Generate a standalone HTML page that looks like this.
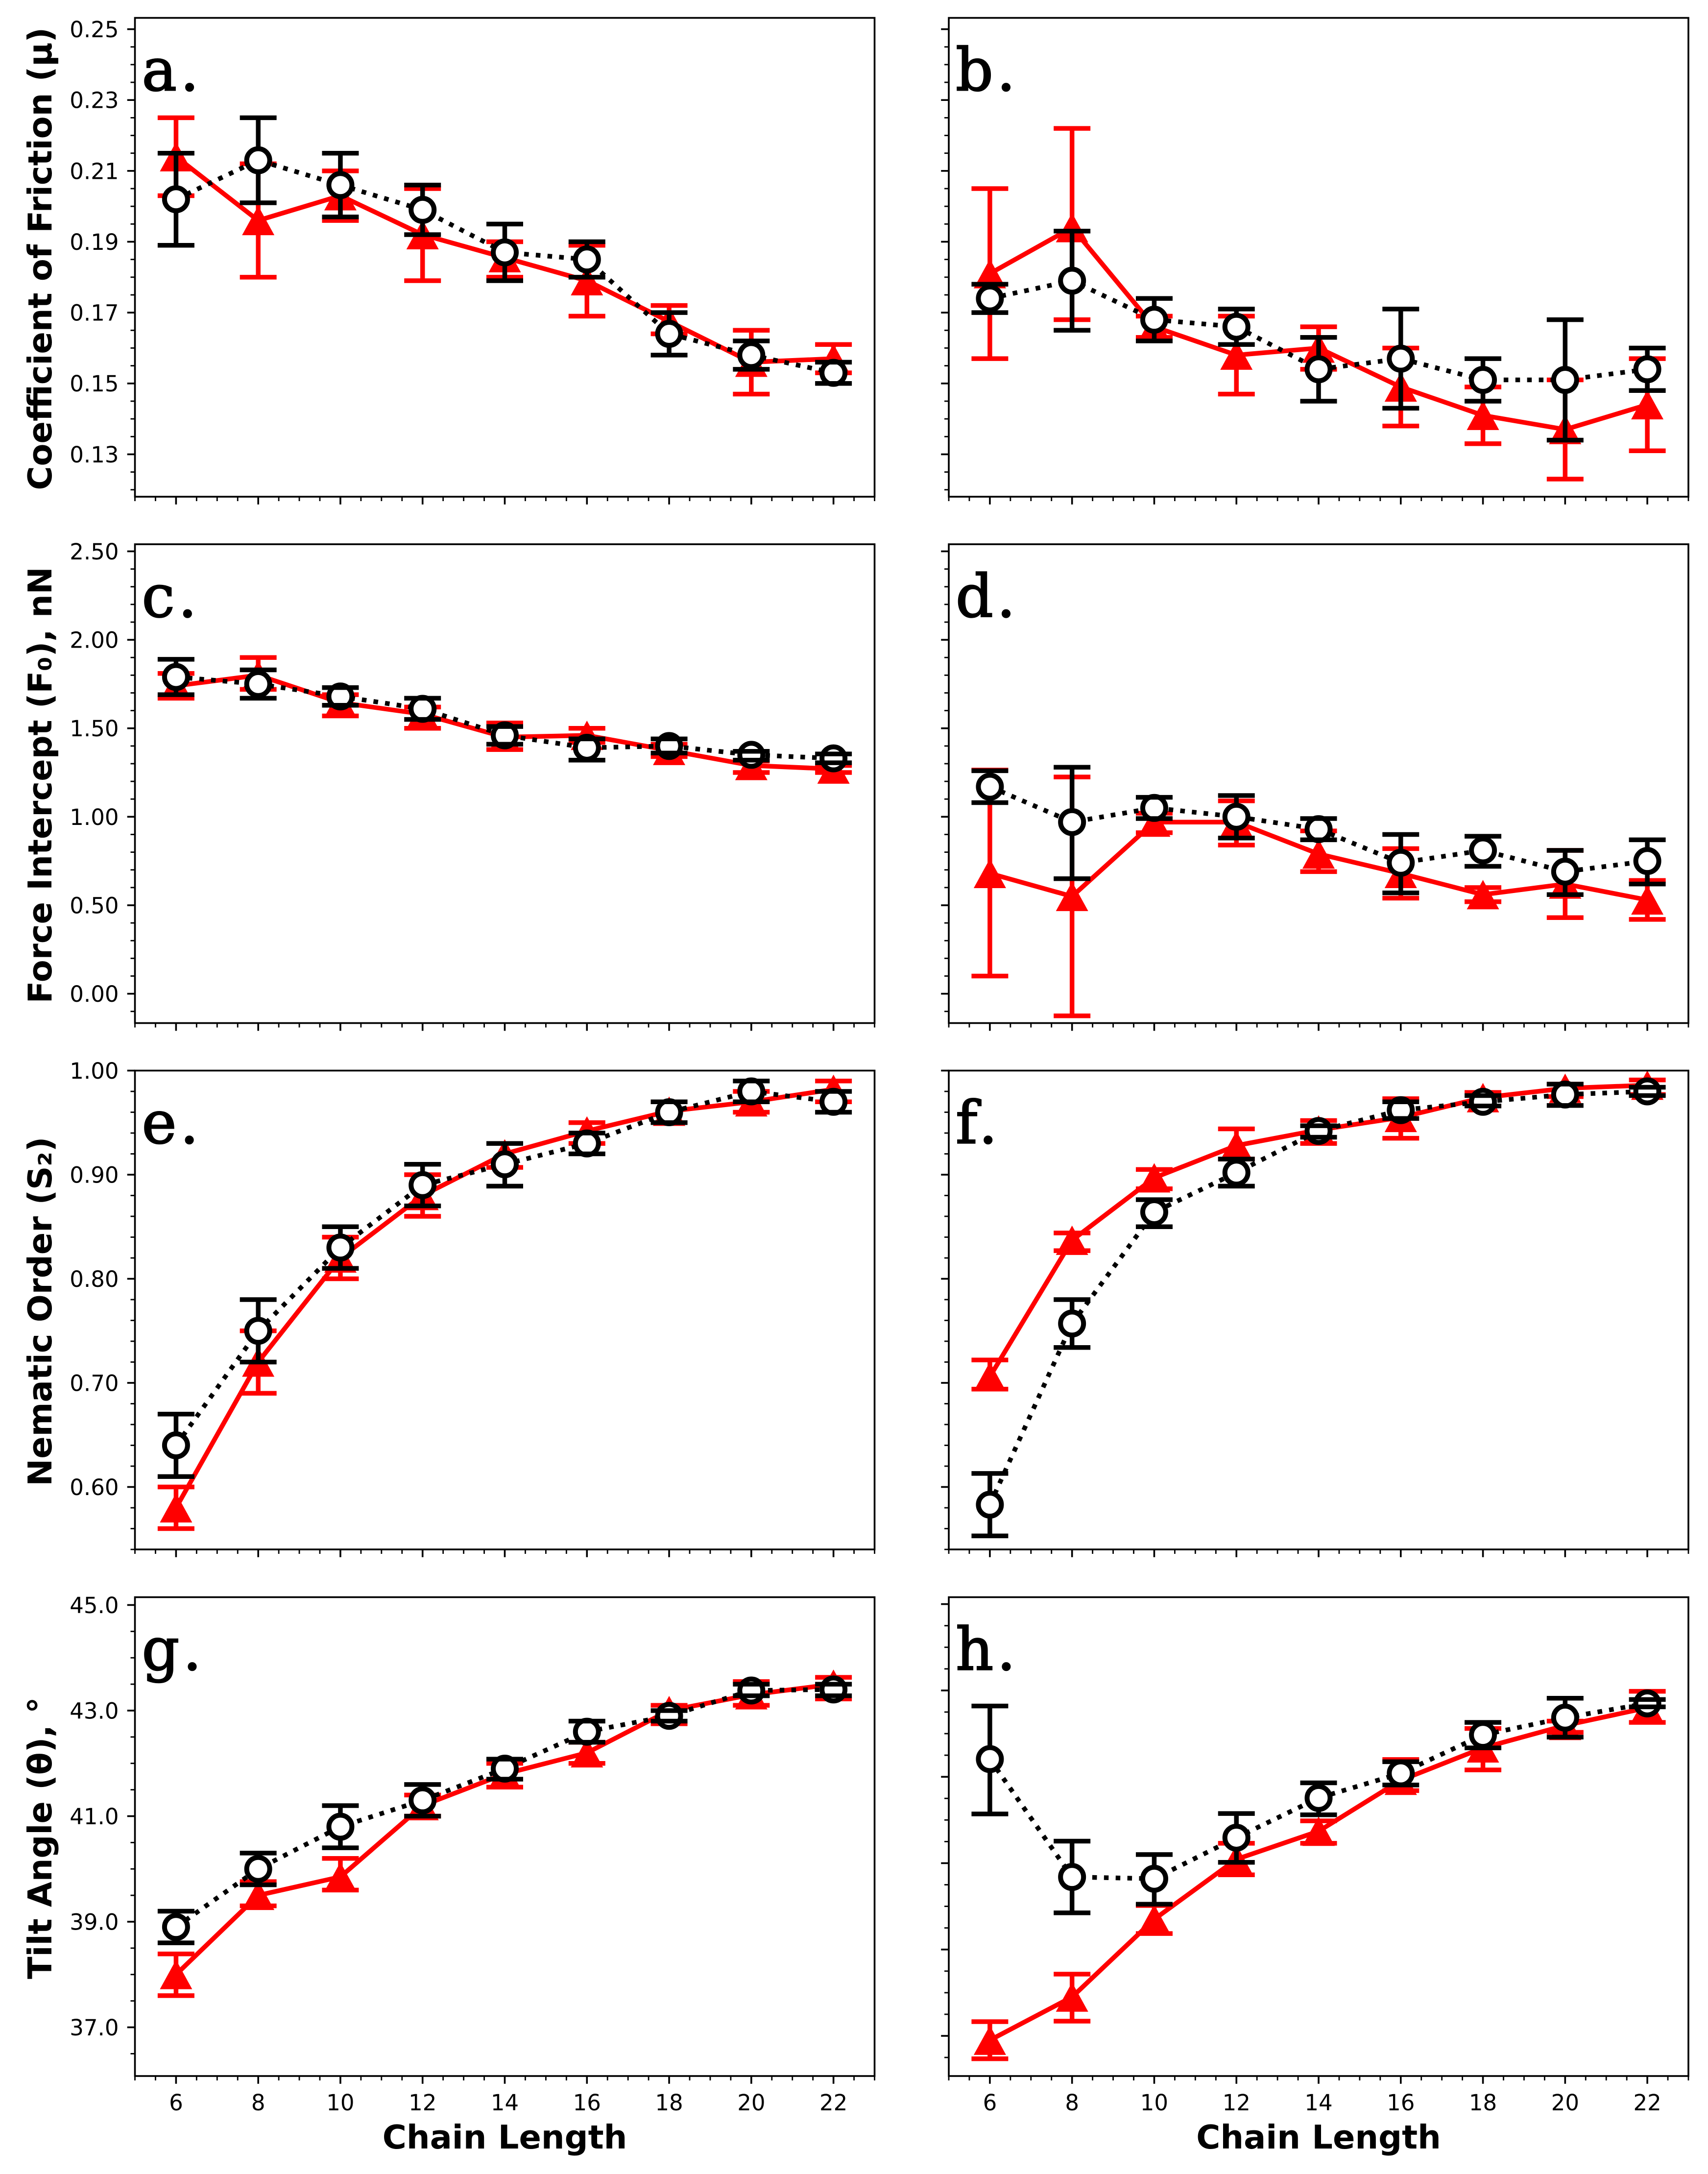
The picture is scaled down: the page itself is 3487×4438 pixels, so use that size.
<!DOCTYPE html>
<html lang="en">
<head>
<meta charset="utf-8">
<title>Chain length effects on friction, force intercept, nematic order and tilt angle</title>
<style>
html,body{margin:0;padding:0;background:#fff;}
svg{display:block;}
.tick{font-family:"DejaVu Sans",sans-serif;font-size:45px;fill:#000;}
.axis-title{font-family:"DejaVu Sans",sans-serif;font-size:67px;font-weight:bold;fill:#000;}
.letter{font-family:"DejaVu Serif",serif;font-size:120px;fill:#000;stroke:#000;stroke-width:2.5px;letter-spacing:7px;}
</style>
</head>
<body>
<svg id="chart" xmlns="http://www.w3.org/2000/svg" width="3487" height="4438" viewBox="0 0 3487 4438">
<rect x="0" y="0" width="3487" height="4438" fill="#fff"/>
</svg>
<script>
const chainLengths = [6, 8, 10, 12, 14, 16, 18, 20, 22];
const xTickLabels = ['6', '8', '10', '12', '14', '16', '18', '20', '22'];

// Panel a: coefficient of friction
const aRedMean = [0.214, 0.196, 0.203, 0.192, 0.1855, 0.179, 0.1675, 0.156, 0.157];
const aRedUpper = [0.225, 0.212, 0.210, 0.205, 0.190, 0.189, 0.172, 0.165, 0.161];
const aRedLower = [0.203, 0.180, 0.196, 0.179, 0.180, 0.169, 0.164, 0.147, 0.153];
const aBlackMean = [0.202, 0.213, 0.206, 0.199, 0.187, 0.185, 0.164, 0.158, 0.153];
const aBlackUpper = [0.215, 0.225, 0.215, 0.206, 0.195, 0.190, 0.170, 0.162, 0.156];
const aBlackLower = [0.189, 0.201, 0.197, 0.192, 0.179, 0.180, 0.158, 0.154, 0.150];

// Panel b: coefficient of friction
const bRedMean = [0.181, 0.194, 0.166, 0.158, 0.160, 0.149, 0.141, 0.137, 0.144];
const bRedUpper = [0.205, 0.222, 0.169, 0.169, 0.166, 0.160, 0.149, 0.151, 0.157];
const bRedLower = [0.157, 0.168, 0.163, 0.147, 0.154, 0.138, 0.133, 0.123, 0.131];
const bBlackMean = [0.174, 0.179, 0.168, 0.166, 0.154, 0.157, 0.151, 0.151, 0.154];
const bBlackUpper = [0.178, 0.193, 0.174, 0.171, 0.163, 0.171, 0.157, 0.168, 0.160];
const bBlackLower = [0.170, 0.165, 0.162, 0.161, 0.145, 0.143, 0.145, 0.134, 0.148];

// Panel c: force intercept
const cRedMean = [1.74, 1.80, 1.645, 1.58, 1.45, 1.46, 1.375, 1.29, 1.27];
const cRedUpper = [1.81, 1.90, 1.69, 1.62, 1.53, 1.50, 1.41, 1.315, 1.29];
const cRedLower = [1.67, 1.72, 1.57, 1.50, 1.38, 1.42, 1.34, 1.25, 1.25];
const cBlackMean = [1.79, 1.75, 1.68, 1.61, 1.46, 1.39, 1.40, 1.35, 1.33];
const cBlackUpper = [1.89, 1.83, 1.73, 1.67, 1.51, 1.44, 1.44, 1.37, 1.355];
const cBlackLower = [1.69, 1.67, 1.63, 1.55, 1.41, 1.32, 1.36, 1.32, 1.305];

// Panel d: force intercept
const dRedMean = [0.68, 0.55, 0.97, 0.97, 0.79, 0.68, 0.56, 0.62, 0.53];
const dRedUpper = [1.264, 1.225, 1.02, 1.09, 0.92, 0.82, 0.60, 0.81, 0.64];
const dRedLower = [0.10, -0.125, 0.91, 0.84, 0.69, 0.54, 0.52, 0.43, 0.42];
const dBlackMean = [1.17, 0.97, 1.05, 1.00, 0.93, 0.74, 0.81, 0.69, 0.75];
const dBlackUpper = [1.26, 1.28, 1.11, 1.12, 0.99, 0.90, 0.89, 0.81, 0.87];
const dBlackLower = [1.08, 0.65, 0.99, 0.88, 0.87, 0.57, 0.72, 0.56, 0.62];

// Panel e: nematic order
const eRedMean = [0.58, 0.72, 0.82, 0.88, 0.92, 0.942, 0.961, 0.97, 0.982];
const eRedUpper = [0.60, 0.75, 0.84, 0.90, 0.93, 0.95, 0.97, 0.98, 0.99];
const eRedLower = [0.56, 0.69, 0.80, 0.86, 0.907, 0.93, 0.95, 0.96, 0.97];
const eBlackMean = [0.64, 0.75, 0.83, 0.89, 0.91, 0.93, 0.96, 0.98, 0.97];
const eBlackUpper = [0.67, 0.78, 0.85, 0.91, 0.93, 0.94, 0.97, 0.99, 0.98];
const eBlackLower = [0.61, 0.72, 0.81, 0.87, 0.889, 0.92, 0.95, 0.97, 0.96];

// Panel f: nematic order
const fRedMean = [0.706, 0.837, 0.897, 0.928, 0.943, 0.955, 0.974, 0.983, 0.986];
const fRedUpper = [0.722, 0.844, 0.905, 0.944, 0.952, 0.973, 0.979, 0.987, 0.991];
const fRedLower = [0.694, 0.827, 0.8865, 0.915, 0.93, 0.935, 0.966, 0.975, 0.977];
const fBlackMean = [0.583, 0.757, 0.864, 0.902, 0.942, 0.962, 0.97, 0.977, 0.98];
const fBlackUpper = [0.613, 0.78, 0.876, 0.915, 0.947, 0.97, 0.976, 0.987, 0.984];
const fBlackLower = [0.553, 0.734, 0.85, 0.889, 0.936, 0.954, 0.966, 0.9665, 0.976];

// Panel g: tilt angle
const gRedMean = [38.0, 39.5, 39.85, 41.2, 41.8, 42.2, 43.0, 43.3, 43.5];
const gRedUpper = [38.39, 39.76, 40.2, 41.4, 42.0, 42.4, 43.1, 43.55, 43.63];
const gRedLower = [37.6, 39.3, 39.6, 41.0, 41.55, 42.0, 42.75, 43.1, 43.22];
const gBlackMean = [38.9, 40.0, 40.8, 41.3, 41.9, 42.6, 42.9, 43.38, 43.4];
const gBlackUpper = [39.2, 40.3, 41.2, 41.6, 42.08, 42.8, 43.0, 43.5, 43.5];
const gBlackLower = [38.6, 39.7, 40.4, 41.0, 41.7, 42.4, 42.8, 43.28, 43.28];

// Panel h: tilt angle
const hRedMean = [35.9, 36.9, 38.7, 40.09, 40.74, 41.92, 42.67, 43.19, 43.6];
const hRedUpper = [36.33, 37.43, 39.02, 40.46, 40.98, 42.4, 43.12, 43.29, 43.98];
const hRedLower = [35.47, 36.34, 38.37, 39.73, 40.46, 41.68, 42.16, 43.03, 43.26];
const hBlackMean = [42.41, 39.68, 39.64, 40.59, 41.51, 42.08, 42.97, 43.37, 43.7];
const hBlackUpper = [43.64, 40.51, 40.2, 41.15, 41.86, 42.35, 43.26, 43.82, 43.79];
const hBlackLower = [41.14, 38.85, 39.05, 40.02, 41.12, 41.81, 42.67, 42.92, 43.62];

// Y tick values and printed labels
const frictionTicks = [0.25, 0.23, 0.21, 0.19, 0.17, 0.15, 0.13];
const frictionLabels = ['0.25', '0.23', '0.21', '0.19', '0.17', '0.15', '0.13'];
const forceTicks = [2.5, 2.0, 1.5, 1.0, 0.5, 0.0];
const forceLabels = ['2.50', '2.00', '1.50', '1.00', '0.50', '0.00'];
const orderTicks = [1.0, 0.9, 0.8, 0.7, 0.6];
const orderLabels = ['1.00', '0.90', '0.80', '0.70', '0.60'];
const tiltTicks = [45, 43, 41, 39, 37];
const tiltLabels = ['45.0', '43.0', '41.0', '39.0', '37.0'];
const tiltRightTicks = [46, 44, 42, 40, 38, 36];

const panels = [
  {id:'a', col:0, row:0, yMin:0.11803, yMax:0.25319, ticks:frictionTicks, labels:frictionLabels, minor:0.005, title:'Coefficient of Friction (μ)', red:[aRedMean,aRedUpper,aRedLower], black:[aBlackMean,aBlackUpper,aBlackLower]},
  {id:'b', col:1, row:0, yMin:0.11803, yMax:0.25319, ticks:frictionTicks, labels:null, minor:0.005, title:null, red:[bRedMean,bRedUpper,bRedLower], black:[bBlackMean,bBlackUpper,bBlackLower]},
  {id:'c', col:0, row:1, yMin:-0.1658, yMax:2.5401, ticks:forceTicks, labels:forceLabels, minor:0.1, title:'Force Intercept (F₀), nN', red:[cRedMean,cRedUpper,cRedLower], black:[cBlackMean,cBlackUpper,cBlackLower]},
  {id:'d', col:1, row:1, yMin:-0.1658, yMax:2.5401, ticks:forceTicks, labels:null, minor:0.1, title:null, red:[dRedMean,dRedUpper,dRedLower], black:[dBlackMean,dBlackUpper,dBlackLower]},
  {id:'e', col:0, row:2, yMin:0.54, yMax:1.0, ticks:orderTicks, labels:orderLabels, minor:0.02, title:'Nematic Order (S₂)', red:[eRedMean,eRedUpper,eRedLower], black:[eBlackMean,eBlackUpper,eBlackLower]},
  {id:'f', col:1, row:2, yMin:0.54, yMax:1.0, ticks:orderTicks, labels:null, minor:0.02, title:null, red:[fRedMean,fRedUpper,fRedLower], black:[fBlackMean,fBlackUpper,fBlackLower]},
  {id:'g', col:0, row:3, yMin:36.077, yMax:45.148, ticks:tiltTicks, labels:tiltLabels, minor:0.5, title:'Tilt Angle (θ), °', red:[gRedMean,gRedUpper,gRedLower], black:[gBlackMean,gBlackUpper,gBlackLower]},
  {id:'h', col:1, row:3, yMin:35.07, yMax:46.16, ticks:tiltRightTicks, labels:null, minor:0.5, title:null, red:[hRedMean,hRedUpper,hRedLower], black:[hBlackMean,hBlackUpper,hBlackLower]}
];

const SVG_NS = 'http://www.w3.org/2000/svg';
const chart = document.getElementById('chart');
const AX_W = 1510, AX_H = 977.5;
const colLeft = [275.5, 1937];
const rowTop = [36.5, 1111, 2185.5, 3260.5];
const X_MIN = 5, X_MAX = 23;
const CAP_HALF = 37.5, LW = 9.5, CIRCLE_R = 23.5, CIRCLE_EDGE = 10, TRI_HALF_W = 33, TRI_HALF_H = 30;

function make(parent, tag, attrs, text) {
  const el = document.createElementNS(SVG_NS, tag);
  for (const k in attrs) el.setAttribute(k, attrs[k]);
  if (text !== undefined) el.textContent = text;
  parent.appendChild(el);
  return el;
}

function xAxis(left) {
  return function (v) { return left + (v - X_MIN) / (X_MAX - X_MIN) * AX_W; };
}
function yAxis(top, yMin, yMax) {
  return function (v) { return top + (yMax - v) / (yMax - yMin) * AX_H; };
}

function drawSeries(g, color, key, pid, data, x, y) {
  const mean = data[0], upper = data[1], lower = data[2];
  const isBlack = key === 'black';

  chainLengths.forEach(function (c, i) {
    const stem = make(g, 'line', {x1:x(c), x2:x(c), y1:y(upper[i]), y2:y(lower[i]), stroke:color, 'stroke-width':LW});
    
    
  });

  const pts = chainLengths.map(function (c, i) { return x(c) + ',' + y(mean[i]); }).join(' ');
  const line = make(g, 'polyline', {points:pts, fill:'none', stroke:color, 'stroke-width':LW, 'stroke-linejoin':'round'});
  if (isBlack) line.setAttribute('stroke-dasharray', '9.5 14.4');
  
  

  chainLengths.forEach(function (c, i) {
    const cx = x(c), cy = y(mean[i]);
    let mk;
    if (isBlack) {
      mk = make(g, 'circle', {cx:cx, cy:cy, r:CIRCLE_R, fill:'#fff', stroke:'#000', 'stroke-width':CIRCLE_EDGE});
    } else {
      const tri = [cx + ',' + (cy - TRI_HALF_H), (cx - TRI_HALF_W) + ',' + (cy + TRI_HALF_H), (cx + TRI_HALF_W) + ',' + (cy + TRI_HALF_H)].join(' ');
      mk = make(g, 'polygon', {points:tri, fill:color});
    }
    
    
  });

  chainLengths.forEach(function (c, i) {
    [upper[i], lower[i]].forEach(function (val, j) {
      const cap = make(g, 'line', {x1:x(c) - CAP_HALF, x2:x(c) + CAP_HALF, y1:y(val), y2:y(val), stroke:color, 'stroke-width':LW});
      
      
    });
  });
}

panels.forEach(function (p) {
  const left = colLeft[p.col], top = rowTop[p.row], bottom = top + AX_H;
  const x = xAxis(left), y = yAxis(top, p.yMin, p.yMax);

  const g = make(chart, 'g', {});
  
  

  // Y ticks
  const kMin = Math.ceil(p.yMin / p.minor - 1e-6), kMax = Math.floor(p.yMax / p.minor + 1e-6);
  for (let k = kMin; k <= kMax; k++) {
    const v = k * p.minor;
    if (p.ticks.some(function (t) { return Math.abs(t - v) < p.minor / 10; })) continue;
    const mt = make(g, 'line', {x1:left - 9, x2:left, y1:y(v), y2:y(v), stroke:'#000', 'stroke-width':2.8});
    
    
  }
  p.ticks.forEach(function (t, i) {
    const tk = make(g, 'line', {x1:left - 15.8, x2:left, y1:y(t), y2:y(t), stroke:'#000', 'stroke-width':3.6});
    
    
    if (p.labels) {
      const lab = make(g, 'text', {x:left - 33, y:y(t) + 16.4, 'text-anchor':'end', 'class':'tick'}, p.labels[i]);
      
      
    }
  });

  // X ticks
  for (let k = 2 * X_MIN; k <= 2 * X_MAX; k++) {
    const v = k / 2;
    if (chainLengths.indexOf(v) >= 0) continue;
    const mt = make(g, 'line', {x1:x(v), x2:x(v), y1:bottom, y2:bottom + 9, stroke:'#000', 'stroke-width':2.8});
    
    
  }
  chainLengths.forEach(function (c, i) {
    const tk = make(g, 'line', {x1:x(c), x2:x(c), y1:bottom, y2:bottom + 15.8, stroke:'#000', 'stroke-width':3.6});
    
    
    if (p.row === 3) {
      const lab = make(g, 'text', {x:x(c), y:bottom + 70, 'text-anchor':'middle', 'class':'tick'}, xTickLabels[i]);
      
      
    }
  });

  // Series
  const redGroup = make(g, 'g', {});
  
  
  drawSeries(redGroup, '#ff0000', 'red', p.id, p.red, x, y);

  const blackGroup = make(g, 'g', {});
  
  
  drawSeries(blackGroup, '#000000', 'black', p.id, p.black, x, y);

  // Frame
  const frame = make(g, 'rect', {x:left, y:top, width:AX_W, height:AX_H, fill:'none', stroke:'#000', 'stroke-width':3.6});
  
  

  // Panel letter
  const letter = make(g, 'text', {x:left + 14, y:top + 148, 'class':'letter'}, p.id + '.');
  
  

  // Titles
  if (p.title) {
    const cy = top + AX_H / 2 + 3;
    const yt = make(g, 'text', {x:105, y:cy, 'text-anchor':'middle', 'class':'axis-title', transform:'rotate(-90 105 ' + cy + ')'}, p.title);
    
    
  }
  if (p.row === 3) {
    const xt = make(g, 'text', {x:left + AX_W / 2, y:bottom + 148, 'text-anchor':'middle', 'class':'axis-title'}, 'Chain Length');
    
    
  }
});
</script>
</body>
</html>
